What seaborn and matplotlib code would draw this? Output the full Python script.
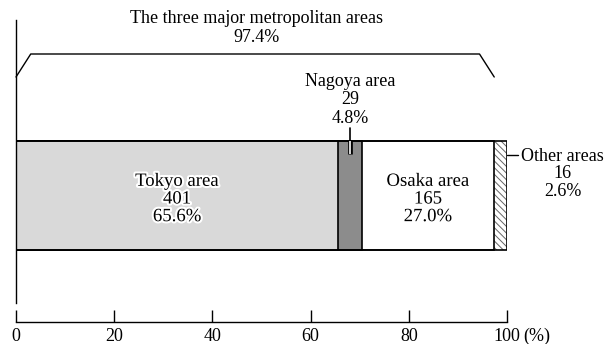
import matplotlib
matplotlib.use("Agg")
import matplotlib.pyplot as plt
import matplotlib.patheffects as pe
import seaborn as sns
import numpy as np
import pandas as pd

# ---- data ----
regions = ["Tokyo area", "Nagoya area", "Osaka area", "Other areas"]
counts = [401, 29, 165, 16]
shares = [65.6, 4.8, 27.0, 2.6]
major_label = "The three major metropolitan areas"
major_share = 97.4
xticks = [0, 20, 40, 60, 80, 100]

# ---- style ----
fills = ["#d9d9d9", "#8c8c8c", "#ffffff", "#ffffff"]
FS = 13

sns.set_theme(style="white")
plt.rcParams["font.family"] = ["Liberation Serif", "DejaVu Serif"]
plt.rcParams["hatch.linewidth"] = 0.7

W, H = 612, 344
fig = plt.figure(figsize=(W / 100, H / 100), dpi=100)
x0_px, x100_px = 16, 507
top_px, bot_px = 20, 322
ax = fig.add_axes([x0_px / W, 1 - bot_px / H, (x100_px - x0_px) / W, (bot_px - top_px) / H])

bar_center_px, bar_h_px = 195.5, 109
unit = bar_h_px / 0.8


def py(p):
    return (p - bar_center_px) / unit


df = pd.DataFrame({"region": regions, "share": shares, "count": counts})
df["end"] = np.cumsum(df["share"])
df["start"] = df["end"] - df["share"]
df["row"] = "all"

# full-width hatched bar (Other areas) first, then overlay cumulative segments
sns.barplot(data=df.iloc[[3]], x="end", y="row", orient="h", color="white",
            saturation=1, edgecolor="#666666", linewidth=0, hatch="\\" * 5,
            width=0.8, ax=ax)
for i in [2, 1, 0]:
    sns.barplot(data=df.iloc[[i]], x="end", y="row", orient="h", color=fills[i],
                saturation=1, edgecolor="black", linewidth=1.2, width=0.8, ax=ax)
# outline of the whole bar
sns.barplot(data=df.iloc[[3]], x="end", y="row", orient="h", color="black",
            saturation=1, fill=False, linewidth=1.2, width=0.8, ax=ax)

ax.set_xlim(0, 100)
ax.set_ylim(py(bot_px), py(top_px))
ax.set_xlabel("")
ax.set_ylabel("")
ax.set_yticks([])
ax.set_xticks(xticks)
ax.set_xticklabels([str(t) for t in xticks])
ax.tick_params(axis="x", which="major", bottom=True, direction="in", length=9,
               width=1, color="black", labelcolor="black", labelsize=FS, pad=4)
for s in ["top", "right"]:
    ax.spines[s].set_visible(False)
ax.spines["bottom"].set_color("black")
ax.spines["bottom"].set_linewidth(1.0)
ax.spines["left"].set_color("black")
ax.spines["left"].set_linewidth(1.0)
ax.spines["left"].set_bounds(py(top_px), py(303))

ax.annotate("(%)", xy=(100, 0), xycoords=("data", "axes fraction"),
            xytext=(12, -3.8), textcoords="offset points", ha="left", va="top",
            fontsize=FS, color="black")

halo = [pe.withStroke(linewidth=3, foreground="white")]

# bracket for three major areas
slant = 3.0
ax.plot([0, slant, major_share - slant, major_share],
        [py(77), py(54), py(54), py(77)], color="black", lw=1.0, clip_on=False)
ax.text(major_share / 2 + 0.3, py(28), f"{major_label}\n{major_share:.1f}%",
        ha="center", va="center", fontsize=FS, linespacing=1.15, color="black")

# Tokyo and Osaka labels inside bars
for i in [0, 2]:
    r = df.iloc[i]
    ax.text((r["start"] + r["end"]) / 2, py(199),
            f"{r['region']}\n{r['count']}\n{r['share']:.1f}%",
            ha="center", va="center", fontsize=13.5, linespacing=1.05,
            color="black", path_effects=halo)

# Nagoya label above bar with leader line
r = df.iloc[1]
xc = (r["start"] + r["end"]) / 2
ax.text(xc, py(100), f"{r['region']}\n{r['count']}\n{r['share']:.1f}%",
        ha="center", va="center", fontsize=FS, linespacing=1.12, color="black")
ax.plot([xc, xc], [py(128), py(141)], color="black", lw=1.2, clip_on=False)
ax.plot([xc, xc], [py(141), py(154)], color="white", lw=1.2, solid_capstyle="butt",
        path_effects=[pe.Stroke(linewidth=3.4, foreground="black"), pe.Normal()])

# Other areas label to the right
r = df.iloc[3]
ax.plot([100, 102.2], [py(155), py(155)], color="black", lw=1.0, clip_on=False)
ax.text(111.3, py(174), f"{r['region']}\n{r['count']}\n{r['share']:.1f}%",
        ha="center", va="center", fontsize=FS, linespacing=1.02, color="black")

fig.savefig("out.png", dpi=100)
